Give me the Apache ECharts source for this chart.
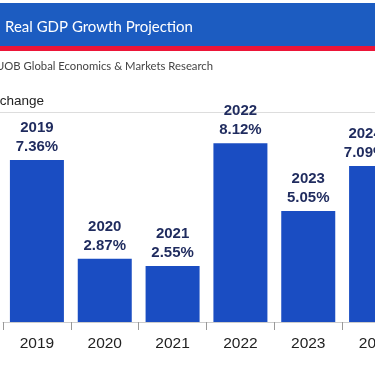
<!DOCTYPE html>
<html>
<head>
<meta charset="utf-8">
<script src="https://cdn.jsdelivr.net/npm/echarts@6/dist/echarts.min.js"></script>
<style>html,body{margin:0;padding:0;background:#fff;overflow:hidden;width:375px;height:366px;}#c{width:410px;height:366px;}</style>
</head>
<body>
<div id="c"></div>
<script>
const categories = ['2019', '2020', '2021', '2022', '2023', '2024'];
const growth = [7.36, 2.87, 2.55, 8.12, 5.05, 7.09];
const titleText = 'Real GDP Growth Projection';
const sourceText = 'UOB Global Economics & Markets Research';
const unitText = '% change';

const seriesData = growth.map((v, i) =>
  i === growth.length - 1 ? {value: v, label: {offset: [-11, 0]}} : v);

const chart = echarts.init(document.getElementById('c'), null, {renderer: 'canvas'});
chart.setOption({
  backgroundColor: '#ffffff',
  animation: false,
  graphic: [
    {type: 'rect', shape: {x: 0, y: 3, width: 410, height: 43}, style: {fill: '#1c5cc1'}},
    {type: 'rect', shape: {x: 0, y: 46, width: 410, height: 5}, style: {fill: '#ec1538'}},
    {type: 'text', x: 5, y: 27, style: {text: titleText, fill: '#ffffff', font: '15px Lato, sans-serif', verticalAlign: 'middle'}},
    {type: 'text', x: -4, y: 66, style: {text: sourceText, fill: '#444444', font: '11.3px Lato, sans-serif', verticalAlign: 'middle'}},
    {type: 'text', x: -16, y: 101, style: {text: unitText, fill: '#222222', font: '13.5px "Liberation Sans", Arial, sans-serif', verticalAlign: 'middle'}},
    {type: 'rect', shape: {x: 0, y: 112, width: 410, height: 1}, style: {fill: '#dddddd'}}
  ],
  grid: {left: 3, right: 0, top: 102, bottom: 44, containLabel: false},
  xAxis: {
    type: 'category',
    data: categories,
    axisLine: {lineStyle: {color: '#cccccc'}},
    axisTick: {show: true, length: 8, lineStyle: {color: '#999999'}},
    axisLabel: {color: '#222222', fontSize: 15.5, fontFamily: 'Liberation Sans, Arial, sans-serif', margin: 14}
  },
  yAxis: {type: 'value', min: 0, max: 10, show: false, splitLine: {show: false}},
  series: [{
    type: 'bar',
    data: seriesData,
    barWidth: 54,
    itemStyle: {color: '#1a4dc2'},
    label: {
      show: true,
      position: 'top',
      distance: 4,
      color: '#1f2b5e',
      fontSize: 15,
      fontWeight: 'bold',
      lineHeight: 19,
      fontFamily: 'Liberation Sans, Arial, sans-serif',
      formatter: p => p.name + '\n' + Number(p.value).toFixed(2) + '%'
    }
  }]
});
</script>
</body>
</html>
